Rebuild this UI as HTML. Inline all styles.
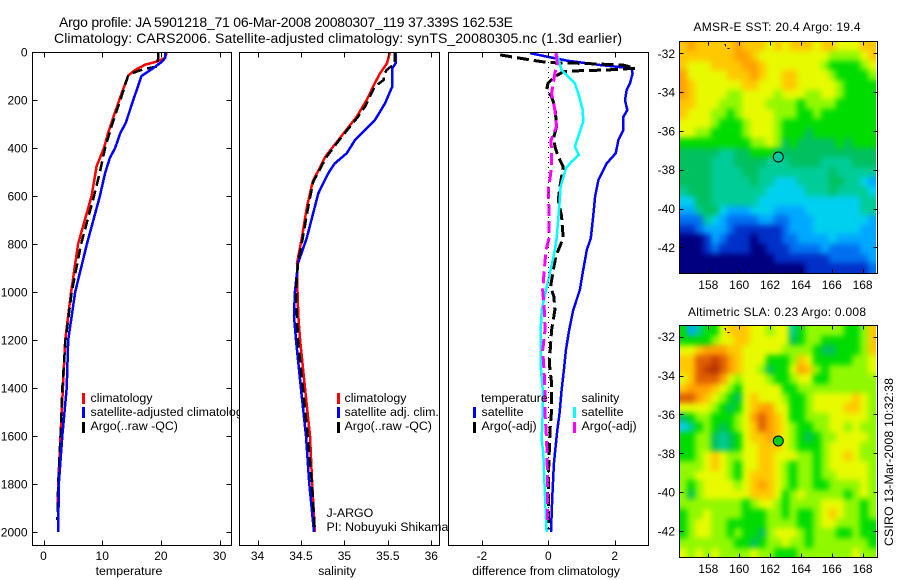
<!DOCTYPE html>
<html lang="en">
<head>
<meta charset="utf-8">
<title>Argo profile</title>
<style>
html,body{margin:0;padding:0;background:#fff;width:900px;height:580px;overflow:hidden}
svg{display:block}
text{font-family:"Liberation Sans",sans-serif;font-size:12px;fill:#000}
text.lab{font-size:12.4px}
</style>
</head>
<body>
<svg id="fig" xmlns="http://www.w3.org/2000/svg" width="900" height="580" viewBox="0 0 900 580">
<defs>
<filter id="smooth" filterUnits="userSpaceOnUse" x="660" y="20" width="240" height="560" color-interpolation-filters="sRGB">
<feGaussianBlur stdDeviation="3"/>
<feComponentTransfer><feFuncA type="linear" slope="100"/></feComponentTransfer>
</filter>
<clipPath id="clipM1"><rect x="680" y="42" width="196" height="232"/></clipPath>
<clipPath id="clipM2"><rect x="680" y="326" width="196" height="232"/></clipPath>
</defs>
<rect x="0" y="0" width="900" height="580" fill="#fff"/>
<text x="59" y="27" style="font-size:14px" textLength="454">Argo profile: JA 5901218_71 06-Mar-2008 20080307_119 37.339S 162.53E</text>
<text x="54" y="43" style="font-size:14px" textLength="568">Climatology: CARS2006. Satellite-adjusted climatology: synTS_20080305.nc (1.3d earlier)</text>

<g id="p1">
<rect x="32.5" y="52.5" width="199" height="493" fill="#fff"/>
<g id="p1marks"></g>
<g id="p1axes"></g>
<rect x="32.5" y="52.5" width="199" height="493" fill="none" stroke="#000" shape-rendering="crispEdges"/>
<text class="lab" x="129" y="575" text-anchor="middle">temperature</text>
<g>
<rect x="82" y="393" width="3" height="11" fill="#f00"/>
<text class="lab" x="90.5" y="402">climatology</text>
<rect x="82" y="407" width="3" height="11" fill="#00f"/>
<text class="lab" x="90.5" y="416">satellite-adjusted climatology</text>
<rect x="82" y="422" width="3" height="11" fill="#000"/>
<text class="lab" x="90.5" y="430">Argo(..raw -QC)</text>
</g>
</g>

<g id="p2">
<rect x="239.5" y="52.5" width="200" height="493" fill="#fff"/>
<g id="p2marks"></g>
<g id="p2axes"></g>
<rect x="239.5" y="52.5" width="200" height="493" fill="none" stroke="#000" shape-rendering="crispEdges"/>
<text class="lab" x="337" y="575" text-anchor="middle">salinity</text>
<g>
<rect x="337" y="393" width="3" height="11" fill="#f00"/>
<text class="lab" x="344.5" y="402">climatology</text>
<rect x="337" y="407" width="3" height="11" fill="#00f"/>
<text class="lab" x="344.5" y="416">satellite adj. clim.</text>
<rect x="337" y="422" width="3" height="11" fill="#000"/>
<text class="lab" x="344.5" y="430">Argo(..raw -QC)</text>
</g>
<text class="lab" x="326.5" y="517">J-ARGO</text>
<text class="lab" x="326.5" y="531">PI: Nobuyuki Shikama</text>
</g>

<g id="p3">
<rect x="448.5" y="52.5" width="200" height="493" fill="#fff"/>
<g id="p3marks"></g>
<g id="p3axes"></g>
<rect x="448.5" y="52.5" width="200" height="493" fill="none" stroke="#000" shape-rendering="crispEdges"/>
<text class="lab" x="546" y="575" text-anchor="middle">difference from climatology</text>
<g>
<text class="lab" x="481" y="402">temperature</text>
<rect x="473" y="407" width="3" height="11" fill="#00f"/>
<text class="lab" x="481.5" y="416">satellite</text>
<rect x="473" y="422" width="3" height="11" fill="#000"/>
<text class="lab" x="481.5" y="430">Argo(-adj)</text>
<text class="lab" x="581.5" y="402">salinity</text>
<rect x="573" y="407" width="3" height="11" fill="#0ff"/>
<text class="lab" x="581.5" y="416">satellite</text>
<rect x="573" y="422" width="3" height="11" fill="#f0f"/>
<text class="lab" x="581.5" y="430">Argo(-adj)</text>
</g>
</g>

<g id="m1">
<text x="777" y="31" text-anchor="middle" textLength="167">AMSR-E SST: 20.4 Argo: 19.4</text>
<g clip-path="url(#clipM1)"><g id="m1cells" filter="url(#smooth)"></g></g>
<g id="m1axes"></g>
<rect x="679.5" y="41.5" width="198" height="232" fill="none" stroke="#000" shape-rendering="crispEdges"/>
<path d="M724.5 44.5h1v2M727.5 48.5h2" fill="none" stroke="#000" shape-rendering="crispEdges"/>
<circle cx="778.3" cy="157" r="5" fill="#00c8a0" stroke="#000"/>
</g>

<g id="m2">
<text x="777" y="316" text-anchor="middle" textLength="178">Altimetric SLA: 0.23 Argo: 0.008</text>
<g clip-path="url(#clipM2)"><g id="m2cells" filter="url(#smooth)"></g></g>
<g id="m2axes"></g>
<rect x="679.5" y="325.5" width="198" height="232" fill="none" stroke="#000" shape-rendering="crispEdges"/>
<path d="M724.5 328.5h1v2M727.5 332.5h2" fill="none" stroke="#000" shape-rendering="crispEdges"/>
<circle cx="778.3" cy="441" r="5" fill="#00d010" stroke="#000"/>
</g>

<text class="lab" transform="translate(893,462) rotate(-90)" text-anchor="middle" textLength="168">CSIRO 13-Mar-2008 10:32:38</text>
</svg>

<script>
// ---- tick values ----
const depthTicks = [0,200,400,600,800,1000,1200,1400,1600,1800,2000];
const tempTicks = [0,10,20,30];
const salTicks = ['34','34.5','35','35.5','36'];
const diffTicks = [-2,0,2];
const lonTicks = [158,160,162,164,166,168];
const latTicks = [-32,-34,-36,-38,-40,-42];

// ---- temperature profiles ----
const tempClimDepth = [0,25,40,53,67,80,100,200,337,400,476,600,800,1000,1200,1400,1600,1800,1900];
const tempClim = [21,20.7,19.3,17.3,16.2,15.3,14.4,12.9,11,10.3,9.05,8.2,5.9,4.7,3.7,3.3,2.9,2.5,2.4];
const tempSatDepth = [0,25,40,67,100,200,296,337,400,442,504,600,800,1000,1200,1400,1600,1800,2000];
const tempSat = [20.7,20.7,20.2,18.7,16.7,15.3,14,13.1,12.2,11.3,10.5,9.6,7.4,5.4,4.2,3.95,3.2,2.6,2.5];
const tempArgoDepth = [0,60,72,90,100,200,300,400,500,600,800,1000,1200,1400,1600,1800,1950];
const tempArgo = [19.6,19.4,17,14.9,14.4,13.1,11.7,10.5,9.6,8.6,6.4,4.8,3.75,3.2,2.9,2.5,2.35];

// ---- salinity profiles ----
const salClimDepth = [0,47,89,130,200,270,367,436,540,644,776,880,1000,1100,1200,1400,1600,1800,2000];
const salClim = [35.525,35.49,35.41,35.35,35.257,35.14,34.93,34.78,34.635,34.57,34.51,34.455,34.46,34.47,34.49,34.547,34.604,34.63,34.66];
const salSatDepth = [0,47,68,144,214,283,367,422,464,505,589,776,880,1000,1100,1200,1400,1600,1800,2000];
const salSat = [35.59,35.59,35.55,35.55,35.467,35.352,35.122,35.026,34.89,34.815,34.70,34.566,34.466,34.43,34.42,34.443,34.5,34.558,34.596,34.65];
const salArgoDepth = [0,47,75,97,117,144,228,270,367,436,540,644,776,880,1000,1200,1400,1600,1800,2000];
const salArgo = [35.58,35.58,35.487,35.45,35.45,35.35,35.237,35.157,34.94,34.796,34.642,34.585,34.52,34.466,34.443,34.466,34.523,34.578,34.627,34.66];

// ---- difference profiles ----
const diffTempSatDepth = [5,36,54,68,89,130,158,200,242,270,325,367,422,464,533,603,700,776,825,908,992,1075,1158,1242,1325,1408,1504,1575,1714,1853,2000];
const diffTempSat = [-0.55,0.55,1.56,2.51,2.54,2.46,2.36,2.31,2.38,2.26,2.26,2.11,2.03,1.76,1.51,1.41,1.34,1.28,1.16,1.05,0.95,0.75,0.63,0.53,0.47,0.40,0.34,0.27,0.17,0.12,0.08];
const diffTempArgoDepth = [12,33,44,47,54,68,75,78,82,103,130,158,186,228,311,353,394,436,478,561,617,686,776,850,908,978,1020,1075,1158,1297,1380,1492,1575,1785,1990];
const diffTempArgo = [-1.45,-0.55,0,0.95,2.25,2.61,1.76,0.95,0.45,0.2,-0.01,-0.05,0.1,0.2,0.25,0.17,0.2,0.3,0.45,0.35,0.3,0.4,0.45,0.23,0.15,0.07,0.17,0.2,0.1,0.03,0.1,0.1,0.05,0,0];
const diffSalSatDepth = [5,75,103,130,186,242,290,353,394,429,457,485,561,644,776,825,908,992,1075,1158,1325,1408,1504,1615,1670,1853,2000];
const diffSalSat = [0.25,0.40,0.6,0.8,0.93,1.04,1.05,0.9,0.8,0.92,0.70,0.53,0.37,0.33,0.25,0.2,0.07,-0.07,-0.2,-0.23,-0.22,-0.17,-0.17,-0.2,-0.15,-0.1,-0.05];
const diffSalArgoDepth = [5,47,89,172,242,311,367,422,478,575,672,776,825,908,992,1075,1158,1242,1325,1408,1504,1615,1785,1950];
const diffSalArgo = [0.23,0.27,0.2,0.1,0.2,0.25,0.08,0.1,0.1,0,0.02,0.02,-0.07,-0.12,-0.17,-0.12,-0.1,-0.17,-0.13,-0.1,-0.1,-0.05,-0.02,-0.02];
const zeroLineDepth = [0,2000];
const zeroLine = [0,0];

// ---- map colour levels ----
const levelColors = ['#000080','#0030c8','#0070f0','#00a8ff','#00d0f0','#00cc98','#00c060','#00dc00','#90f800','#e8fa00','#ffc800','#ffa000','#e06000','#c84000','#b03000'];

// ---- SST map (colour level per cell, north to south) ----
const sstRow00 = [10,11,10,10,10,10,10,11,10,10,10,9,10,9,10,10,10,9,10,10,9,9,9,10,10];
const sstRow01 = [10,10,10,10,10,10,10,11,11,10,9,9,9,9,9,9,9,9,9,8,8,8,8,9,10];
const sstRow02 = [10,9,9,9,10,10,10,10,11,11,10,9,9,9,9,9,9,9,8,7,7,7,7,8,9];
const sstRow03 = [11,9,9,9,9,9,10,10,10,11,10,9,9,10,10,9,9,9,9,8,7,7,7,7,8];
const sstRow04 = [11,10,9,9,9,9,9,9,10,10,9,9,9,10,10,9,9,9,9,9,8,7,7,7,7];
const sstRow05 = [11,10,9,9,9,9,8,8,9,9,9,9,8,9,9,9,8,8,9,9,8,7,7,7,7];
const sstRow06 = [10,10,9,9,9,8,8,8,9,9,9,8,8,8,8,7,8,8,8,8,7,7,7,7,7];
const sstRow07 = [10,9,9,9,8,8,7,8,9,9,9,9,8,8,8,7,7,8,7,7,7,7,7,7,7];
const sstRow08 = [9,9,9,9,8,7,7,7,8,9,9,9,8,7,7,7,7,7,7,7,7,7,7,7,7];
const sstRow09 = [9,9,8,8,7,7,7,7,8,9,9,9,8,7,7,7,6,7,7,7,7,7,7,7,7];
const sstRow10 = [7,7,7,7,7,7,7,7,7,8,8,9,8,6,7,6,6,6,6,6,7,6,7,7,7];
const sstRow11 = [6,6,6,6,6,5,5,6,6,7,7,7,6,6,6,6,6,6,6,6,6,6,6,6,6];
const sstRow12 = [6,6,6,6,5,5,5,6,6,6,6,5,5,5,6,6,6,6,5,5,5,5,6,6,6];
const sstRow13 = [6,6,6,6,5,5,5,5,6,6,5,5,5,5,5,5,5,5,5,6,5,5,5,5,5];
const sstRow14 = [6,6,6,6,5,5,5,5,5,6,5,5,4,4,4,5,5,5,5,6,6,5,5,4,3];
const sstRow15 = [5,6,6,6,5,5,5,5,5,5,5,4,4,4,4,4,5,5,5,6,5,5,5,5,4];
const sstRow16 = [4,4,6,6,5,5,5,5,5,5,4,4,4,4,4,4,4,4,4,4,4,4,4,5,5];
const sstRow17 = [3,3,5,6,6,4,3,3,3,4,4,4,3,3,3,3,4,4,4,4,4,4,4,5,5];
const sstRow18 = [2,2,2,5,4,3,2,2,2,2,3,3,2,2,3,3,3,4,4,4,4,4,4,4,3];
const sstRow19 = [1,1,2,3,3,3,2,1,1,1,1,1,1,2,3,3,3,4,4,4,4,4,4,3,3];
const sstRow20 = [0,0,0,1,3,2,1,1,1,0,1,1,1,2,2,3,3,3,3,4,3,3,3,3,3];
const sstRow21 = [0,0,0,1,2,1,1,1,1,0,0,1,1,1,2,2,2,2,3,2,2,2,2,3,3];
const sstRow22 = [0,0,0,0,0,0,0,0,0,0,0,0,1,1,1,1,1,1,1,2,2,2,2,2,3];
const sstRow23 = [0,0,0,0,0,0,0,0,0,0,0,0,0,0,0,0,1,1,1,1,1,1,1,1,2];
const sstRows = [sstRow00,sstRow01,sstRow02,sstRow03,sstRow04,sstRow05,sstRow06,sstRow07,sstRow08,sstRow09,sstRow10,sstRow11,sstRow12,sstRow13,sstRow14,sstRow15,sstRow16,sstRow17,sstRow18,sstRow19,sstRow20,sstRow21,sstRow22,sstRow23];

// ---- SLA map (colour level per cell, north to south) ----
const slaRow00 = [7,3,5,7,7,9,10,10,10,9,9,8,9,9,5,7,8,8,8,8,8,7,7,8,10];
const slaRow01 = [7,7,7,7,8,9,9,10,10,9,9,9,9,9,6,7,8,8,7,7,7,7,7,8,10];
const slaRow02 = [9,9,10,11,11,11,10,10,9,9,9,9,9,8,8,8,8,7,6,6,7,7,7,8,10];
const slaRow03 = [10,10,12,12,13,12,11,10,9,9,9,7,7,7,8,10,9,7,7,7,7,7,8,8,9];
const slaRow04 = [10,10,12,13,14,12,11,10,9,9,8,6,7,7,9,11,10,8,7,8,8,8,8,8,9];
const slaRow05 = [9,10,12,12,12,11,9,8,9,9,9,8,7,7,8,9,9,7,7,8,8,8,8,8,8];
const slaRow06 = [10,11,11,11,10,9,8,7,9,9,9,9,9,7,7,8,8,8,8,8,8,8,8,8,8];
const slaRow07 = [12,12,11,10,9,8,7,6,9,10,9,9,9,8,7,7,8,9,9,9,9,9,10,9,8];
const slaRow08 = [9,9,9,9,8,7,6,7,9,10,11,11,9,9,7,7,8,9,9,9,9,10,10,9,8];
const slaRow09 = [6,7,8,8,7,7,7,8,9,11,12,11,10,9,7,7,8,8,8,9,9,9,9,9,8];
const slaRow10 = [4,5,7,8,7,6,7,8,9,10,12,11,10,9,8,7,7,8,8,9,9,8,9,8,8];
const slaRow11 = [7,7,8,8,6,5,6,7,9,10,10,11,10,9,8,7,6,7,8,8,9,9,9,9,8];
const slaRow12 = [7,7,8,8,6,5,6,7,9,9,10,10,10,9,8,7,7,7,8,9,9,9,9,8,8];
const slaRow13 = [7,7,8,9,10,9,8,8,9,9,10,10,9,9,9,8,8,7,8,9,9,10,9,8,8];
const slaRow14 = [8,8,8,9,10,9,8,7,9,9,10,10,9,8,7,8,8,7,8,9,9,9,9,9,8];
const slaRow15 = [8,8,9,9,9,9,8,7,9,10,10,10,9,8,7,8,8,7,8,8,9,9,9,9,8];
const slaRow16 = [8,7,8,9,9,9,9,8,9,10,11,10,9,8,7,8,8,7,7,8,8,8,8,9,8];
const slaRow17 = [8,6,8,9,9,9,9,9,9,10,10,10,9,7,8,9,8,8,8,8,8,7,8,9,8];
const slaRow18 = [8,8,8,8,8,8,8,8,7,8,9,9,8,7,8,8,8,8,9,9,9,8,8,7,8];
const slaRow19 = [7,8,8,9,8,8,8,8,7,7,7,8,8,7,8,7,7,8,9,10,9,8,8,7,8];
const slaRow20 = [7,8,9,9,8,8,7,7,7,7,7,8,8,8,8,7,7,8,9,9,8,8,8,7,7];
const slaRow21 = [7,8,9,9,8,8,7,8,7,7,6,8,9,9,9,8,7,8,8,8,7,7,8,7,7];
const slaRow22 = [8,8,8,8,8,8,8,7,7,6,7,8,8,9,8,8,7,8,8,8,8,8,8,8,7];
const slaRow23 = [9,8,9,8,9,8,8,8,8,9,8,8,7,7,7,8,8,8,8,8,8,8,9,8,8];
const slaRows = [slaRow00,slaRow01,slaRow02,slaRow03,slaRow04,slaRow05,slaRow06,slaRow07,slaRow08,slaRow09,slaRow10,slaRow11,slaRow12,slaRow13,slaRow14,slaRow15,slaRow16,slaRow17,slaRow18,slaRow19,slaRow20,slaRow21,slaRow22,slaRow23];

// ---- axis functions ----
const NS = 'http://www.w3.org/2000/svg';
function yDepth(d){ return 52 + d * 0.24; }
function xTemp(t){ return 43.5 + t * 5.87; }
function xSal(s){ return 257.5 + (s - 34) * 86.9; }
function xDiff(v){ return 548.3 + v * 33.2; }
function xLon(lon){ return 708.3 + (lon - 158) * 15.43; }
function yLat1(lat){ return 53.3 + (-32 - lat) * 19.4; }
function yLat2(lat){ return 336.7 + (-32 - lat) * 19.43; }

function mk(tag, attrs, parent){
  const el = document.createElementNS(NS, tag);
  for (const k in attrs) el.setAttribute(k, attrs[k]);
  parent.appendChild(el);
  return el;
}
function crisp(v){ return Math.round(v) + 0.5; }

function drawProfile(parentId, xFn, depths, values, color, width, dash, name){
  const pts = depths.map(function(d, i){ return xFn(values[i]).toFixed(1) + ',' + yDepth(d).toFixed(1); }).join(' ');
  const attrs = {points: pts, fill: 'none', stroke: color, 'stroke-width': width, 'shape-rendering': 'crispEdges'};
  if (dash) attrs['stroke-dasharray'] = dash;
  const el = mk('polyline', attrs, document.getElementById(parentId));
  
  
}

// ---- profile axes ----
function drawXAxis(axesId, ticks, xFn, top, bottom, labelY, len){
  const g = document.getElementById(axesId);
  ticks.forEach(function(t){
    const x = crisp(xFn(Number(t)));
    const a = mk('line', {x1: x, x2: x, y1: top, y2: top + len, stroke: '#000', 'shape-rendering': 'crispEdges'}, g);
    
    
    const b = mk('line', {x1: x, x2: x, y1: bottom - len, y2: bottom, stroke: '#000', 'shape-rendering': 'crispEdges'}, g);
    
    
    const lab = mk('text', {x: xFn(Number(t)), y: labelY, 'text-anchor': 'middle'}, g);
    lab.textContent = String(t);
    
    
  });
}
function drawYAxis(axesId, ticks, yFn, left, right, labelX, len, labelFn){
  const g = document.getElementById(axesId);
  ticks.forEach(function(t){
    const y = crisp(yFn(t));
    const a = mk('line', {x1: left, x2: left + len, y1: y, y2: y, stroke: '#000', 'shape-rendering': 'crispEdges'}, g);
    
    
    const b = mk('line', {x1: right - len, x2: right, y1: y, y2: y, stroke: '#000', 'shape-rendering': 'crispEdges'}, g);
    
    
    const lab = mk('text', {x: labelX, y: yFn(t) + 4.5, 'text-anchor': 'end'}, g);
    lab.textContent = labelFn(t);
    
    
  });
}
drawXAxis('p1axes', tempTicks, xTemp, 52.5, 545.5, 560, 5);
drawYAxis('p1axes', depthTicks, yDepth, 32.5, 231.5, 27.5, 5, String);
drawXAxis('p2axes', salTicks, xSal, 52.5, 545.5, 560, 5);
drawXAxis('p3axes', diffTicks, xDiff, 52.5, 545.5, 560, 5);

// ---- profile series ----
drawProfile('p1marks', xTemp, tempClimDepth, tempClim, '#f00', 2.5, null, 'temperature-climatology-line');
drawProfile('p1marks', xTemp, tempArgoDepth, tempArgo, '#000', 2.5, '10 5', 'temperature-argo-line');
drawProfile('p1marks', xTemp, tempSatDepth, tempSat, '#00f', 2.5, null, 'temperature-satellite-line');
drawProfile('p2marks', xSal, salClimDepth, salClim, '#f00', 2.5, null, 'salinity-climatology-line');
drawProfile('p2marks', xSal, salSatDepth, salSat, '#00f', 2.5, null, 'salinity-satellite-line');
drawProfile('p2marks', xSal, salArgoDepth, salArgo, '#000', 2.5, '10 5', 'salinity-argo-line');
drawProfile('p3marks', xDiff, diffTempSatDepth, diffTempSat, '#00f', 2.5, null, 'difference-temperature-satellite-line');
drawProfile('p3marks', xDiff, diffTempArgoDepth, diffTempArgo, '#000', 3, '12 5', 'difference-temperature-argo-line');
drawProfile('p3marks', xDiff, diffSalSatDepth, diffSalSat, '#0ff', 2.5, null, 'difference-salinity-satellite-line');
drawProfile('p3marks', xDiff, diffSalArgoDepth, diffSalArgo, '#f0f', 3, '12 5', 'difference-salinity-argo-line');
drawProfile('p3marks', xDiff, zeroLineDepth, zeroLine, '#000', 1, '1 4', 'difference-zero-line');

// ---- heatmaps ----
function drawMap(parentId, rows, yFn, latTop, latBottom, name){
  const g = document.getElementById(parentId);
  const lonLeft = 156.13, lonRight = 168.85;
  const nRows = rows.length;
  rows.forEach(function(row, r){
    const nCols = row.length;
    const y0 = Math.round(yFn(latTop + (latBottom - latTop) * r / nRows));
    const y1 = Math.round(yFn(latTop + (latBottom - latTop) * (r + 1) / nRows));
    row.forEach(function(level, c){
      const x0 = Math.round(xLon(lonLeft + (lonRight - lonLeft) * c / nCols));
      const x1 = Math.round(xLon(lonLeft + (lonRight - lonLeft) * (c + 1) / nCols));
      const cell = mk('rect', {x: x0, y: y0, width: x1 - x0, height: y1 - y0, fill: levelColors[level], 'shape-rendering': 'crispEdges'}, g);
      
      
    });
  });
}
drawMap('m1cells', sstRows, yLat1, -31.39, -43.33, 'sst-cell');
drawMap('m2cells', slaRows, yLat2, -31.45, -43.35, 'sla-cell');

drawXAxis('m1axes', lonTicks, xLon, 41.5, 273.5, 289, 4);
drawYAxis('m1axes', latTicks, yLat1, 679.5, 877.5, 675, 4, String);
drawXAxis('m2axes', lonTicks, xLon, 325.5, 557.5, 573, 4);
drawYAxis('m2axes', latTicks, yLat2, 679.5, 877.5, 675, 4, String);
</script>
</body>
</html>
